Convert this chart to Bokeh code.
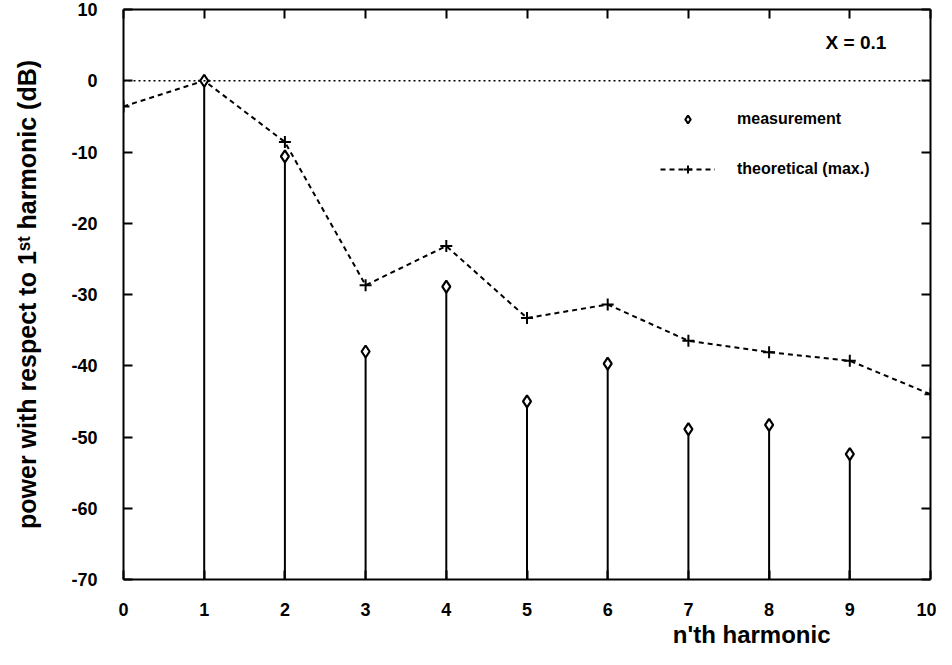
import math
from bokeh.plotting import figure
from bokeh.models import (Range1d, LinearAxis, Span, Label, Legend, LegendItem,
                          FixedTicker, Title)
from bokeh.embed import file_html
from bokeh.resources import INLINE

# ---- data ----
theory_n = [0, 1, 2, 3, 4, 5, 6, 7, 8, 9, 10]
theory_db = [-3.6, 0.0, -8.6, -28.7, -23.2, -33.3, -31.4, -36.5, -38.1, -39.3, -44.0]
meas_n = [1, 2, 3, 4, 5, 6, 7, 8, 9]
meas_db = [0.0, -10.6, -38.0, -28.9, -45.0, -39.7, -48.9, -48.3, -52.4]
x_ticks = [0, 1, 2, 3, 4, 5, 6, 7, 8, 9, 10]
y_ticks = [-70, -60, -50, -40, -30, -20, -10, 0, 10]
x_min, x_max = 0, 10
y_min, y_max = -70, 10

FONT = "Liberation Sans"

p = figure(width=936, height=649,
           x_range=Range1d(x_min, x_max), y_range=Range1d(y_min, y_max),
           output_backend="svg", toolbar_location=None,
           min_border_left=123, min_border_right=6,
           min_border_top=9, min_border_bottom=70,
           x_axis_type=None, y_axis_type=None)
p.grid.visible = False
p.outline_line_color = None
p.background_fill_color = "white"
p.border_fill_color = "white"


def style_axis(ax, show_labels):
    ax.axis_line_width = 2
    ax.axis_line_color = "black"
    ax.major_tick_in = 9
    ax.major_tick_out = 0
    ax.major_tick_line_width = 2
    ax.major_tick_line_color = "black"
    ax.minor_tick_line_color = None
    if show_labels:
        ax.major_label_text_font = FONT
        ax.major_label_text_font_style = "bold"
        ax.major_label_text_font_size = "18px"
        ax.major_label_text_color = "black"
    else:
        ax.major_label_text_font_size = "0px"
        ax.major_label_text_color = None
        ax.major_label_standoff = 0


xb = LinearAxis(ticker=FixedTicker(ticks=x_ticks))
style_axis(xb, True)
xb.major_label_standoff = 23
p.add_layout(xb, "below")

yl = LinearAxis(ticker=FixedTicker(ticks=y_ticks))
style_axis(yl, True)
yl.major_label_standoff = 26
yl.major_label_overrides = {t: str(t) for t in y_ticks}
yl.axis_label = "power with respect to 1\u02e2\u1d57 harmonic (dB)"
yl.axis_label_text_font = FONT
yl.axis_label_text_font_style = "bold"
yl.axis_label_text_font_size = "25px"
yl.axis_label_text_color = "black"
yl.axis_label_standoff = 27
p.add_layout(yl, "left")

xt = LinearAxis(ticker=FixedTicker(ticks=x_ticks))
style_axis(xt, False)
p.add_layout(xt, "above")

yr = LinearAxis(ticker=FixedTicker(ticks=y_ticks))
style_axis(yr, False)
p.add_layout(yr, "right")

# x-axis title (right of centre, as in the reference)
p.add_layout(Title(text="n'th harmonic", align="right", offset=100, standoff=0,
                   text_font=FONT, text_font_style="bold", text_font_size="24px",
                   text_color="black"), "below")

# dotted zero line
p.add_layout(Span(location=0, dimension="width", line_color="black",
                  line_dash="2 3", line_width=1.5))

# stems
p.segment(x0=meas_n, y0=[y_min] * len(meas_n), x1=meas_n, y1=meas_db,
          line_color="black", line_width=2)

# theoretical dashed line + plus markers
th_line = p.line(theory_n, theory_db, line_color="black", line_width=2,
                 line_dash="5 4")
th_pts = p.scatter(theory_n, theory_db, marker="cross", size=12,
                   line_color="black", line_width=2)

# measurement diamonds
ms = p.scatter(meas_n, meas_db, marker="diamond", size=12,
               line_color="black", line_width=2.2, fill_color="white")

legend = Legend(items=[LegendItem(label="measurement", renderers=[ms]),
                       LegendItem(label="theoretical (max.)", renderers=[th_line, th_pts])],
                location=(537, 400), glyph_width=55, glyph_height=20,
                label_height=20, spacing=30, label_standoff=22, padding=0,
                margin=0, border_line_color=None, background_fill_alpha=0,
                label_text_font=FONT, label_text_font_style="bold",
                label_text_font_size="16px", label_text_color="black")
p.add_layout(legend)

p.add_layout(Label(x=8.70, y=5.43, text="X = 0.1", text_font=FONT,
                   text_font_style="bold", text_font_size="19px",
                   text_baseline="middle", text_align="left", text_color="black"))

open("out.html", "w").write(file_html(p, INLINE))
